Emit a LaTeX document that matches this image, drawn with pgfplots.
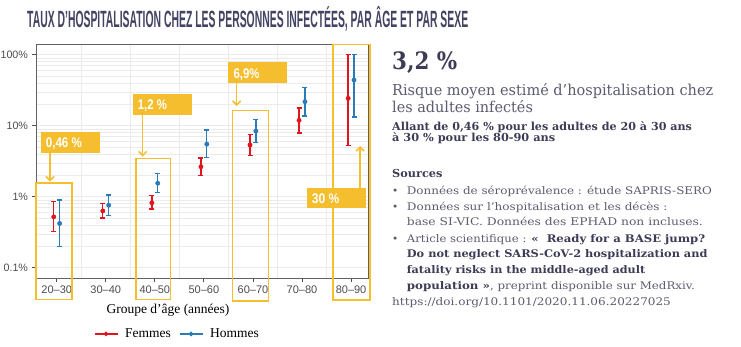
\documentclass[border=0pt]{standalone}
\usepackage{pgfplots}
\pgfplotsset{compat=1.18}
\usepackage{fontspec}
\usepackage{graphicx}
\usetikzlibrary{arrows.meta}
\setmainfont{Liberation Serif}
\newfontfamily\sansf{Liberation Sans}
\newfontfamily\slab{DejaVu Serif}
\definecolor{ttl}{HTML}{434363}
\definecolor{txt}{HTML}{5C5C70}
\definecolor{bld}{HTML}{3C3C55}
\definecolor{ylw}{HTML}{F4BE2E}
\definecolor{fem}{HTML}{E0161F}
\definecolor{hom}{HTML}{2B7BB9}
\definecolor{grd}{HTML}{EBEBEB}
\definecolor{tck}{HTML}{4D4D4D}
\newcommand\fit[2]{\resizebox{#1}{\height}{#2}}

\begin{document}
\begin{tikzpicture}
\fill[white] (0pt,0pt) rectangle (741pt,346pt);
\path[use as bounding box] (0pt,0pt) rectangle (741pt,346pt);

\begin{axis}[
  at={(36pt,68pt)}, anchor=south west, scale only axis,
  width=332pt, height=234pt,
  xmin=-0.422, xmax=6.345,
  ymode=log, ymin=0.0716, ymax=141.5,
  xtick={0,1,2,3,4,5,6},
  xticklabels={20–30,30–40,40–50,50–60,60–70,70–80,80–90},
  ytick={0.1,1,10,100},
  yticklabels={0.1\%,1\%,10\%,100\%},
  minor xtick={0.5,1.5,2.5,3.5,4.5,5.5},
  xmajorgrids=false, xminorgrids=true, ymajorgrids=true, yminorgrids=true,
  grid style={grd, line width=0.7pt},
  minor grid style={grd, line width=0.5pt},
  tick align=outside, major tick length=4.5pt, minor tick length=0pt,
  xtick pos=left, ytick pos=left,
  tick style={tck, line width=0.8pt},
  axis line style={draw=black!62, line width=0.8pt},
  yticklabel style={font=\sansf\fontsize{10.7}{12}\selectfont, text=tck},
  xticklabel style={font=\sansf\fontsize{11}{12}\selectfont, text=tck},
  unbounded coords=jump,
  legend style={at={(axis description cs:0.426,-0.239)}, anchor=center,
    draw=none, fill=none, legend columns=2,
    font=\fontsize{13.5}{15}\selectfont,
    /tikz/every odd column/.append style={column sep=5pt},
    /tikz/every even column/.append style={column sep=6pt}},
  legend image code/.code={\draw[mark repeat=2,mark phase=2,#1]
     plot coordinates {(0pt,0pt) (11.5pt,0pt) (23pt,0pt)};},
]
\addlegendimage{fem, line width=1.3pt, mark=*, mark size=1.6pt}
\addlegendentry{Femmes}
\addlegendimage{hom, line width=1.3pt, mark=*, mark size=1.6pt}
\addlegendentry{Hommes}

% error ranges, Femmes
\addplot[forget plot, fem, line width=1.3pt, mark=-, mark size=2.5pt,
  mark options={solid, line width=1.3pt}] coordinates {
  (-0.06,0.32) (-0.06,0.85) (-0.06,nan)
  (0.94,0.50) (0.94,0.81) (0.94,nan)
  (1.94,0.67) (1.94,1.03) (1.94,nan)
  (2.94,2.0) (2.94,3.5) (2.94,nan)
  (3.94,3.8) (3.94,7.5) (3.94,nan)
  (4.94,7.9) (4.94,17.8) (4.94,nan)
  (5.94,5.3) (5.94,100)
};
% error ranges, Hommes
\addplot[forget plot, hom, line width=1.3pt, mark=-, mark size=2.5pt,
  mark options={solid, line width=1.3pt}] coordinates {
  (0.06,0.20) (0.06,0.90) (0.06,nan)
  (1.06,0.54) (1.06,1.06) (1.06,nan)
  (2.06,1.15) (2.06,2.14) (2.06,nan)
  (3.06,3.55) (3.06,8.7) (3.06,nan)
  (4.06,5.75) (4.06,12.3) (4.06,nan)
  (5.06,13.7) (5.06,34.8) (5.06,nan)
  (6.06,13.2) (6.06,100)
};
% central estimates
\addplot[forget plot, only marks, mark=*, mark size=2.2pt, fem] coordinates {
  (-0.06,0.52) (0.94,0.63) (1.94,0.82) (2.94,2.65) (3.94,5.35) (4.94,11.9) (5.94,24.3)
};
\addplot[forget plot, only marks, mark=*, mark size=2.2pt, hom] coordinates {
  (0.06,0.42) (1.06,0.76) (2.06,1.55) (3.06,5.5) (4.06,8.4) (5.06,21.8) (6.06,44)
};
\end{axis}

\begin{scope}[x=1pt,y=1pt]
% axis title
\node[anchor=base, inner sep=0] at (168,32.7) {\fontsize{13.5}{15}\selectfont Groupe d’âge (années)};

% highlight boxes
\draw[ylw, line width=1.6pt] (36,46.7) rectangle (72,163.3);
\draw[ylw, line width=1.6pt] (135.7,46.7) rectangle (170.3,187.7);
\draw[ylw, line width=1.6pt] (232.3,45.3) rectangle (268.3,235.3);
\draw[ylw, line width=1.6pt] (332.7,46) rectangle (370,301.3);

% arrows
\draw[ylw, line width=1.5pt, -{Straight Barb[length=4pt,width=8pt]}] (50,193) -- (50,164.5);
\draw[ylw, line width=1.5pt, -{Straight Barb[length=4pt,width=8pt]}] (142.7,231.5) -- (142.7,189.5);
\draw[ylw, line width=1.5pt, -{Straight Barb[length=4pt,width=8pt]}] (236.7,263.5) -- (236.7,240);
\draw[ylw, line width=1.5pt, -{Straight Barb[length=4pt,width=8pt]}] (360,157.5) -- (360,200);

% label boxes
\fill[ylw] (41.3,192.7) rectangle (100,214);
\node[anchor=base west, inner sep=0, text=white] at (45.7,198.7) {\fit{36pt}{\sansf\bfseries\fontsize{14}{14}\selectfont 0,46 \%}};
\fill[ylw] (133.3,231) rectangle (192.3,252);
\node[anchor=base west, inner sep=0, text=white] at (137.7,236.7) {\fit{29pt}{\sansf\bfseries\fontsize{14}{14}\selectfont 1,2 \%}};
\fill[ylw] (228.3,263.3) rectangle (286.7,284);
\node[anchor=base west, inner sep=0, text=white] at (233.3,267.7) {\fit{26pt}{\sansf\bfseries\fontsize{14}{14}\selectfont 6,9\%}};
\fill[ylw] (307.3,137.7) rectangle (365.7,157.7);
\node[anchor=base west, inner sep=0, text=white] at (311.7,142.7) {\fit{27.6pt}{\sansf\bfseries\fontsize{14}{14}\selectfont 30 \%}};

% title
\node[anchor=base west, inner sep=0, text=ttl] at (27,318) {\fit{441pt}{\sansf\bfseries\fontsize{23.5}{24}\selectfont TAUX D’HOSPITALISATION CHEZ LES PERSONNES INFECTÉES, PAR ÂGE ET PAR SEXE}};

% right-hand text
\node[anchor=base west, inner sep=0, text=bld] at (392,276) {\fit{65pt}{\slab\bfseries\fontsize{24}{26}\selectfont 3,2 \%}};
\node[anchor=base west, inner sep=0, text=txt] at (392,251) {\fit{321pt}{\slab\fontsize{15}{17}\selectfont Risque moyen estimé d’hospitalisation chez}};
\node[anchor=base west, inner sep=0, text=txt] at (392,233.3) {\fit{140.7pt}{\slab\fontsize{15}{17}\selectfont les adultes infectés}};
\node[anchor=base west, inner sep=0, text=bld] at (392,215.3) {\fit{299.7pt}{\slab\bfseries\fontsize{11}{13}\selectfont Allant de 0,46 \% pour les adultes de 20 à 30 ans}};
\node[anchor=base west, inner sep=0, text=bld] at (392,204.3) {\fit{163pt}{\slab\bfseries\fontsize{11}{13}\selectfont à 30 \% pour les 80-90 ans}};

\node[anchor=base west, inner sep=0, text=bld] at (392,168.3) {\fit{50.3pt}{\slab\bfseries\fontsize{11}{13}\selectfont Sources}};
\foreach \yy in {151.7,136,104} {\node[anchor=base west, inner sep=0, text=txt] at (392,\yy) {\slab\fontsize{10.5}{12}\selectfont •};}
\node[anchor=base west, inner sep=0, text=txt] at (406.7,151.7) {\fit{305pt}{\slab\fontsize{10.5}{12}\selectfont Données de séroprévalence : étude SAPRIS-SERO}};
\node[anchor=base west, inner sep=0, text=txt] at (406.7,136) {\fit{260.6pt}{\slab\fontsize{10.5}{12}\selectfont Données sur l’hospitalisation et les décès :}};
\node[anchor=base west, inner sep=0, text=txt] at (406.7,120.5) {\fit{296pt}{\slab\fontsize{10.5}{12}\selectfont base SI-VIC. Données des EPHAD non incluses.}};
\node[anchor=base west, inner sep=0, text=txt] at (406.7,104) {\fit{298.3pt}{\slab\fontsize{10.5}{12}\selectfont Article scientifique : {\color{bld}\bfseries « \ Ready for a BASE jump?}}};
\node[anchor=base west, inner sep=0, text=bld] at (406.7,88.3) {\fit{300.6pt}{\slab\bfseries\fontsize{10.5}{12}\selectfont Do not neglect SARS-CoV-2 hospitalization and}};
\node[anchor=base west, inner sep=0, text=bld] at (406.7,72.7) {\fit{238.3pt}{\slab\bfseries\fontsize{10.5}{12}\selectfont fatality risks in the middle-aged adult}};
\node[anchor=base west, inner sep=0, text=txt] at (406.7,57) {\fit{288pt}{\slab\fontsize{10.5}{12}\selectfont {\color{bld}\bfseries population »}, preprint disponible sur MedRxiv.}};
\node[anchor=base west, inner sep=0, text=txt] at (392,40.5) {\fit{278.7pt}{\slab\fontsize{10.5}{12}\selectfont https://doi.org/10.1101/2020.11.06.20227025}};
\end{scope}
\end{tikzpicture}
\end{document}
